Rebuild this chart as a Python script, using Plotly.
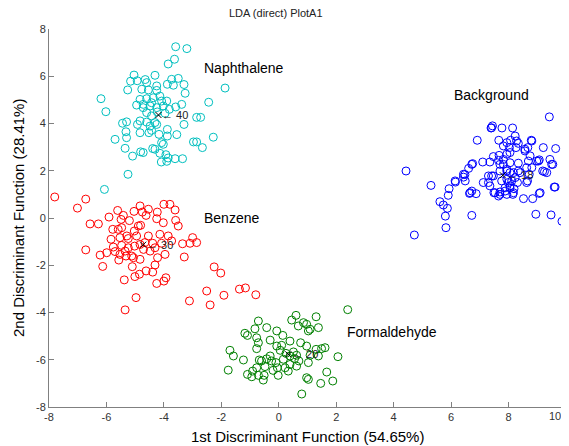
import plotly.graph_objects as go

# ---- data ----
naphthalene = [(-3.59,7.25),(-3.20,7.17),(-3.63,6.72),(-3.85,6.52),(-1.87,5.50),(-5.04,6.05),(-4.31,6.04),(-5.16,5.79),
(-4.93,5.81),(-4.65,5.86),(-4.60,5.73),(-3.73,5.87),(-3.50,5.91),(-3.88,5.66),(-3.67,5.62),(-3.30,5.65),(-5.26,5.42),
(-4.77,5.45),(-4.25,5.59),(-4.25,5.40),(-4.54,5.42),(-6.19,5.05),(-6.02,4.50),(-3.26,5.28),(-2.44,4.90),(-4.83,5.02),
(-4.60,5.05),(-4.37,5.09),(-4.14,5.16),(-3.90,4.95),(-4.95,4.78),(-4.72,4.81),(-4.48,4.74),(-4.25,4.67),(-4.02,4.74),
(-3.81,4.60),(-3.59,4.70),(-3.38,4.81),(-4.60,4.46),(-4.43,4.32),(-4.23,4.49),(-3.96,4.43),(-5.30,4.07),(-5.44,4.01),
(-4.92,3.96),(-4.83,4.11),(-4.60,4.06),(-4.48,3.89),(-4.25,3.96),(-3.88,3.75),(-3.30,3.96),(-2.86,4.26),(-2.72,4.26),
(-5.70,3.33),(-5.32,3.65),(-5.30,3.40),(-4.83,3.61),(-4.52,3.61),(-4.43,3.71),(-4.17,3.54),(-3.88,3.47),(-3.55,3.53),
(-4.08,3.19),(-2.97,3.22),(-2.86,3.22),(-2.66,2.98),(-2.28,3.42),(-5.35,2.95),(-5.09,2.62),(-4.81,2.80),(-4.72,2.77),
(-4.39,2.94),(-4.31,2.91),(-4.14,2.74),(-3.93,2.68),(-3.85,2.54),(-4.09,2.37),(-3.90,2.40),(-3.61,2.51),(-3.35,2.51),
(-5.25,1.85),(-6.07,1.21),(-4.02,3.12),(-4.72,4.67),(-4.43,4.88),(-4.08,4.95),(-4.31,4.04)]

benzene = [(-7.80,0.89),(-6.72,0.80),(-7.01,0.42),(-6.57,-0.25),(-6.28,-0.25),(-5.91,0.04),(-5.61,0.32),(-5.41,0.11),
(-5.49,-0.06),(-5.20,-0.11),(-5.04,0.28),(-4.83,0.51),(-4.75,0.25),(-4.54,0.37),(-4.62,0.11),(-4.23,0.25),(-4.00,0.58),
(-3.79,0.58),(-3.61,0.34),(-4.25,-0.03),(-4.02,-0.20),(-3.59,-0.10),(-3.50,-0.34),(-5.78,-0.48),(-5.59,-0.48),
(-5.47,-0.41),(-4.89,-0.34),(-4.81,-0.31),(-5.03,-0.55),(-4.54,-0.76),(-4.14,-0.69),(-3.85,-0.76),(-3.73,-0.97),
(-5.53,-0.83),(-5.24,-0.87),(-4.95,-0.76),(-4.39,-1.07),(-4.08,-1.07),(-5.76,-1.23),(-5.47,-1.16),(-5.24,-1.26),
(-5.02,-1.19),(-4.83,-1.12),(-4.66,-1.04),(-6.72,-1.35),(-6.22,-1.57),(-5.99,-1.47),(-5.70,-1.42),(-5.53,-1.54),
(-5.32,-1.61),(-5.12,-1.61),(-4.71,-1.33),(-4.31,-1.26),(-3.35,-1.09),(-3.09,-1.07),(-3.00,-0.83),(-2.86,-1.04),
(-5.57,-1.78),(-5.06,-1.68),(-4.83,-1.75),(-4.22,-1.68),(-3.96,-1.54),(-3.29,-1.65),(-6.13,-2.05),(-5.10,-2.06),
(-4.31,-1.99),(-4.62,-2.24),(-4.85,-2.38),(-5.01,-2.48),(-4.39,-2.29),(-5.38,-2.62),(-3.93,-2.53),(-4.00,-2.67),
(-4.25,-2.77),(-4.97,-3.37),(-5.35,-3.89),(-3.11,-3.51),(-2.51,-3.09),(-2.39,-3.68),(-2.25,-2.07),(-5.29,-0.76),
(-5.35,-1.40),(-4.48,-1.40),(-5.84,-0.90),(-2.02,-2.33),(-1.91,-3.27),(-1.37,-3.01),(-1.16,-2.96),(-0.80,-3.25)]

background = [(4.43,1.99),(4.72,-0.72),(5.30,1.38),(5.82,-0.41),(5.80,0.08),(5.61,0.69),(5.73,0.55),(5.87,0.41),
(5.90,0.96),(5.93,1.24),(6.15,1.52),(6.48,1.84),(6.43,1.73),(6.61,2.10),(6.75,2.30),(6.64,1.04),(6.72,1.14),(6.87,1.03),
(6.72,0.11),(6.91,3.29),(7.10,2.37),(7.35,2.37),(7.12,1.50),(7.30,1.78),(7.39,3.81),(7.44,3.90),(7.77,3.81),(8.14,3.81),
(7.66,3.29),(8.07,3.29),(8.23,3.47),(8.34,3.16),(7.82,3.05),(8.03,2.98),(8.26,2.98),(8.57,2.91),(8.79,3.29),(8.67,2.98),
(7.67,2.65),(7.94,2.70),(7.47,2.60),(7.65,2.44),(7.82,2.27),(8.05,2.34),(8.34,2.32),(8.75,2.63),(8.98,2.41),(9.07,2.46),
(9.21,2.98),(9.64,2.94),(9.42,4.28),(9.44,2.48),(9.54,2.27),(9.19,1.99),(9.33,1.92),(9.59,1.31),(8.63,2.13),(8.72,1.85),
(8.66,1.57),(7.94,2.06),(8.05,1.92),(7.70,1.99),(7.47,1.78),(7.94,1.64),(8.11,1.57),(8.05,1.36),(8.19,1.24),(7.88,1.28),
(7.70,1.10),(7.49,1.07),(7.65,0.93),(7.94,1.00),(8.15,1.00),(8.52,0.82),(8.84,0.82),(9.07,1.04),(8.95,0.16),(9.48,0.13),
(9.86,-0.14),(8.40,1.92),(7.35,1.36),(8.31,1.50),(7.76,1.57),(7.53,1.07),(7.70,1.00),(7.88,1.14),(8.05,1.28),(8.17,1.07),
(7.99,1.50),(8.23,1.71),(8.34,1.99),(8.17,1.92),(7.94,1.99),(7.70,2.27),(7.82,2.48),(8.05,2.77),(8.57,2.84),(8.69,2.41),
(9.04,2.41),(8.81,2.13),(7.30,1.50),(7.41,1.78),(6.72,2.27),(6.43,1.85),(6.49,1.57),(6.66,1.07),(8.63,1.50),(9.10,1.07),
(9.62,1.31),(9.25,1.96),(9.50,2.27),(8.81,3.26),(8.28,3.26),(7.94,3.19),(7.41,3.82),(6.14,1.57)]

formaldehyde = [(2.40,-3.88),(0.60,-4.12),(1.30,-4.18),(0.45,-4.32),(0.86,-4.43),(0.97,-4.50),(0.68,-4.57),(1.09,-4.71),
(1.03,-4.78),(1.38,-4.64),(-0.71,-4.36),(-0.83,-4.69),(-0.42,-4.64),(-0.07,-4.78),(-1.18,-4.88),(-1.09,-4.97),
(-0.77,-5.07),(-0.71,-5.28),(-0.30,-5.17),(0.14,-4.97),(0.39,-5.21),(0.10,-5.39),(-0.07,-5.42),(0.76,-5.28),(0.97,-5.42),
(-0.77,-5.53),(-1.70,-5.60),(-1.58,-5.84),(-1.23,-6.01),(-0.68,-6.01),(-0.42,-5.96),(-0.25,-6.05),(-0.10,-6.12),
(0.16,-5.98),(0.39,-5.84),(0.62,-5.81),(1.09,-5.81),(1.30,-5.56),(1.49,-5.53),(1.61,-5.49),(2.06,-5.87),(1.38,-5.84),
(1.03,-6.12),(0.39,-6.20),(0.62,-6.27),(0.22,-6.34),(-0.05,-6.34),(-0.48,-6.29),(-0.77,-6.34),(-0.91,-6.48),(-1.76,-6.44),
(-1.09,-6.62),(-0.94,-6.72),(-0.71,-6.66),(-0.51,-6.66),(-0.54,-6.86),(-0.02,-6.66),(0.33,-6.48),(0.97,-6.76),(1.03,-6.83),
(1.46,-7.00),(1.67,-6.52),(1.88,-6.90),(0.80,-7.45),(0.25,-5.73),(0.51,-5.67),(-0.30,-5.84),(-0.60,-6.05),(0.05,-5.60),
(0.55,-5.95),(-0.20,-6.45),(0.70,-6.05)]

centroid_x = [-4.19, -4.72, 7.80, 0.33]
centroid_y = [4.36, -1.13, 1.81, -5.77]
centroid_labels = ["40", "30", "18", "20"]

class_names = ["Naphthalene", "Benzene", "Background", "Formaldehyde"]
class_label_x = [-1.21, -1.63, 7.39, 3.94]
class_label_y = [6.35, 0.0, 5.21, -4.83]

x_ticks = [-8, -6, -4, -2, 0, 2, 4, 6, 8, 10]
y_ticks = [-8, -6, -4, -2, 0, 2, 4, 6, 8]

series = [(naphthalene, "rgb(0,191,191)"), (benzene, "rgb(255,0,0)"),
          (background, "rgb(0,0,255)"), (formaldehyde, "rgb(0,128,0)")]

FONT = "Liberation Sans, Arial, sans-serif"
TICKFONT = dict(family=FONT, size=11, color="#333333")

fig = go.Figure()
for pts, col in series:
    fig.add_trace(go.Scatter(
        x=[p[0] for p in pts], y=[p[1] for p in pts], mode="markers",
        marker=dict(symbol="circle-open", size=8, color=col, line=dict(width=1, color=col)),
        showlegend=False, hoverinfo="skip"))

fig.add_trace(go.Scatter(
    x=centroid_x, y=centroid_y, mode="markers",
    marker=dict(symbol="x-thin", size=6, line=dict(width=1, color="black"), color="black"),
    showlegend=False, hoverinfo="skip"))

annotations = []
for cx, cy, lab in zip(centroid_x, centroid_y, centroid_labels):
    annotations.append(dict(x=cx, y=cy, xref="x", yref="y", text="\u2190 " + lab,
                            showarrow=False, xanchor="left", yanchor="middle", xshift=2,
                            font=dict(family=FONT, size=11, color="#222222")))
for nm, lx, ly in zip(class_names, class_label_x, class_label_y):
    annotations.append(dict(x=lx, y=ly, xref="x", yref="y", text=nm, showarrow=False,
                            xanchor="center", yanchor="middle",
                            font=dict(family=FONT, size=14, color="black")))
# last x tick label sits at the very right edge of the window; draw it as an annotation
annotations.append(dict(x=x_ticks[-1], y=y_ticks[0], xref="x", yref="y", text=str(x_ticks[-1]),
                        showarrow=False, xanchor="right", yanchor="top", xshift=-4, yshift=-2,
                        borderpad=0, font=TICKFONT))
# axis titles and chart title placed in paper space
annotations.append(dict(x=0.5, y=0.0, xref="paper", yref="paper", yshift=-29,
                        text="1st Discriminant Function (54.65%)", showarrow=False,
                        xanchor="center", yanchor="middle",
                        font=dict(family=FONT, size=15, color="black")))
annotations.append(dict(x=0.0, y=0.5, xref="paper", yref="paper", xshift=-31,
                        text="2nd Discriminant Function (28.41%)", showarrow=False, textangle=-90,
                        xanchor="center", yanchor="middle",
                        font=dict(family=FONT, size=15, color="black")))
annotations.append(dict(x=0.44, y=1.0, xref="paper", yref="paper", yshift=16,
                        text="LDA (direct) PlotA1", showarrow=False,
                        xanchor="center", yanchor="middle",
                        font=dict(family=FONT, size=11, color="#222222")))

# page body has an 8px margin, so the figure is sized/offset to land the plot area
# at x 49..566, y 29..407 in the 569x446 window
fig.update_layout(
    width=561, height=438,
    margin=dict(l=41, r=3, t=21, b=39, autoexpand=False),
    plot_bgcolor="white", paper_bgcolor="white",
    annotations=annotations,
    xaxis=dict(range=[-8, 10], tickvals=x_ticks, ticktext=[str(v) for v in x_ticks[:-1]] + [""],
               showgrid=False, zeroline=False, showline=True, linecolor="#808080", linewidth=1,
               ticks="inside", ticklen=5, tickcolor="#808080", mirror=False, automargin=False,
               tickfont=TICKFONT),
    yaxis=dict(range=[-8, 8], tickvals=y_ticks, ticktext=[str(v) for v in y_ticks],
               showgrid=False, zeroline=False, showline=True, linecolor="#808080", linewidth=1,
               ticks="inside", ticklen=5, tickcolor="#808080", mirror=False, automargin=False,
               tickfont=TICKFONT),
)

fig.write_html("out.html")
